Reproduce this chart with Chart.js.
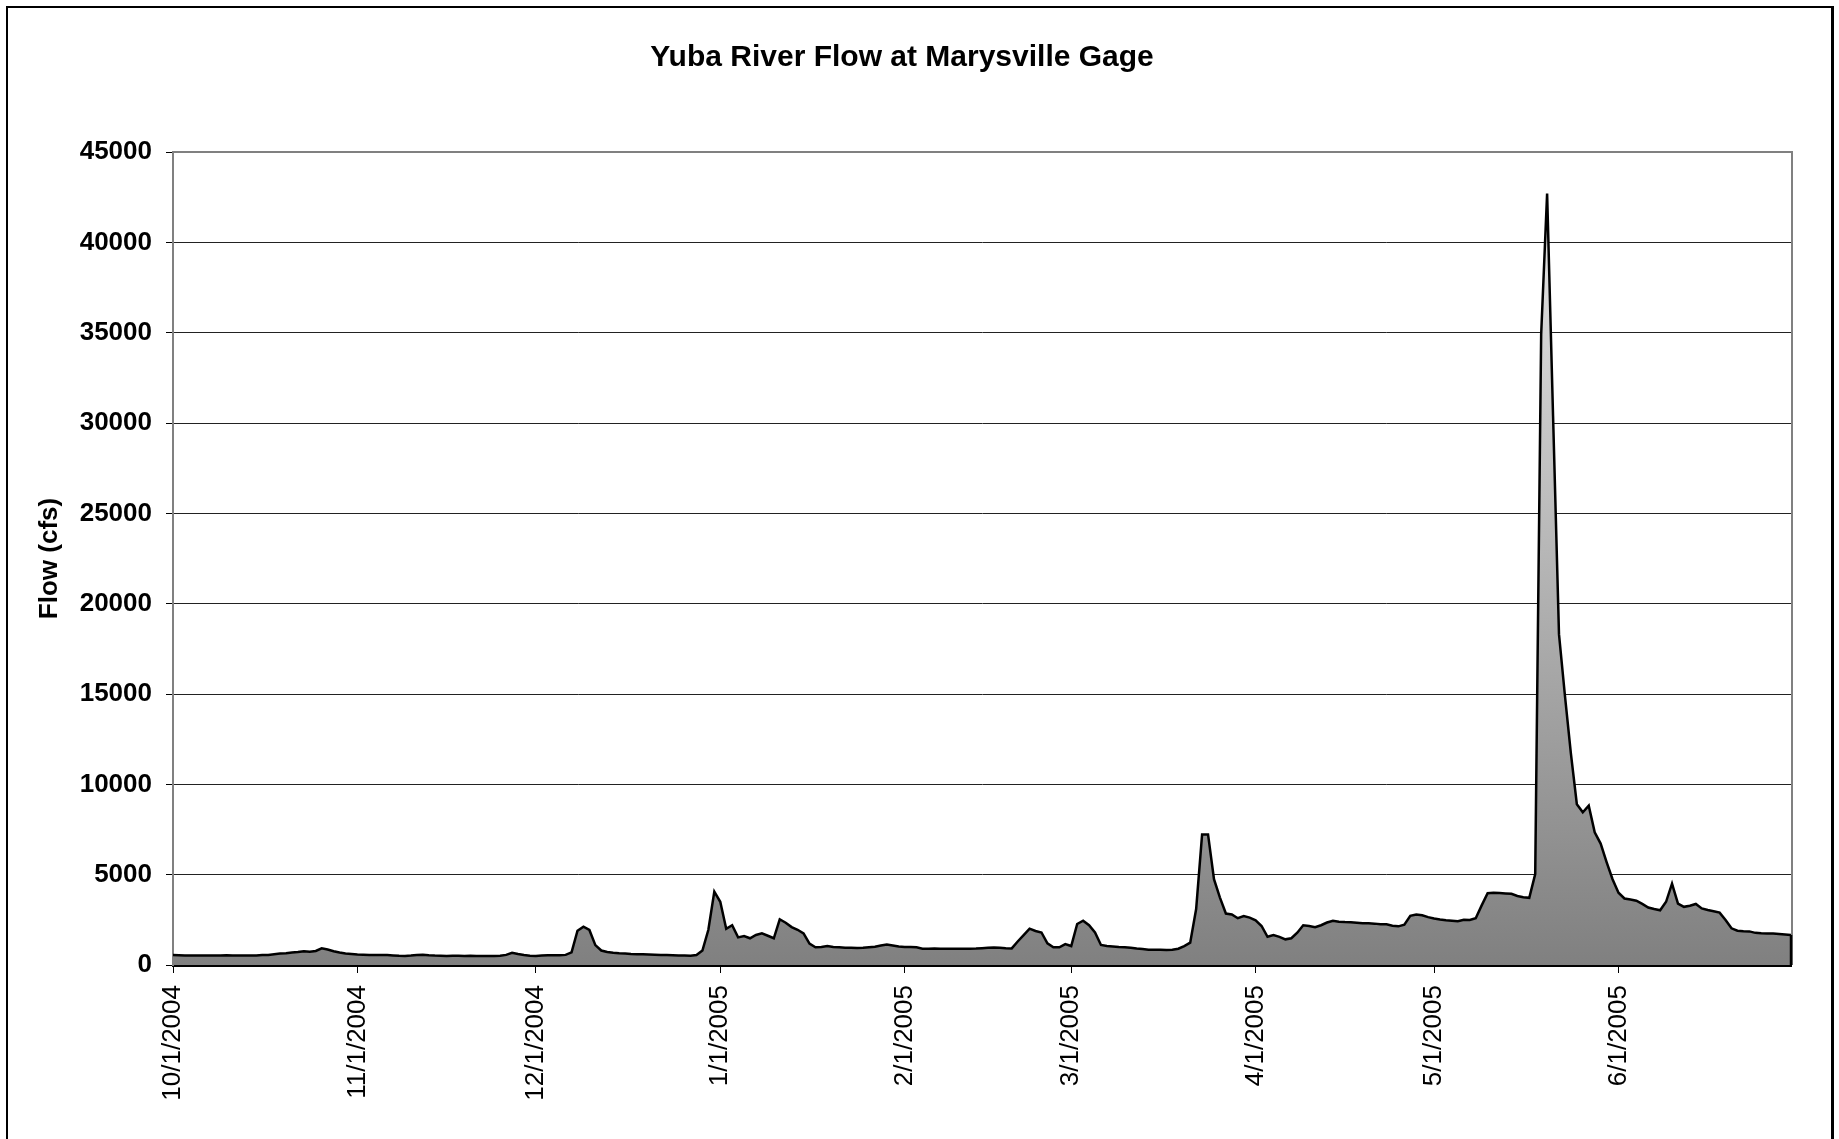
<!DOCTYPE html>
<html>
<head>
<meta charset="utf-8">
<title>Yuba River Flow at Marysville Gage</title>
<script src="https://cdn.jsdelivr.net/npm/chart.js@4.4.1/dist/chart.umd.min.js"></script>
<style>
  html, body { margin: 0; padding: 0; background: #fff; overflow: hidden; }
  #wrap { position: relative; width: 1839px; height: 1139px; }
  #frame {
    position: absolute; left: 6px; top: 6px; width: 1828px; height: 1200px;
    border: 2px solid #000; border-right-width: 3px; box-sizing: border-box;
    pointer-events: none;
  }
  canvas { position: absolute; left: 0; top: 0; }
</style>
</head>
<body>
<div id="wrap">
  <canvas id="flow-chart" width="1839" height="1139"></canvas>
  <div id="frame"></div>
</div>
<script>
// daily mean flow (cfs), one array per month, starting 10/1/2004
const startDate = '10/1/2004';
const oct2004 = [550, 540, 530, 530, 530, 530, 530, 530, 530, 540, 530, 520, 520, 530, 530, 550,
                 560, 600, 630, 650, 690, 720, 760, 740, 780, 920, 860, 760, 690, 640, 610];
const nov2004 = [580, 570, 560, 560, 560, 550, 530, 510, 500, 520, 550, 570, 540, 520, 510,
                 500, 510, 510, 500, 510, 500, 500, 500, 500, 510, 560, 680, 610, 550, 510];
const dec2004 = [500, 520, 540, 535, 540, 560, 700, 1900, 2120, 1940, 1100, 800, 720, 680, 650, 630,
                 610, 600, 590, 580, 570, 560, 550, 540, 530, 520, 515, 550, 800, 1950, 4060];
const jan2005 = [3500, 2000, 2200, 1530, 1600, 1480, 1660, 1750, 1620, 1480, 2530, 2340, 2100, 1950, 1750, 1180,
                 980, 1000, 1050, 1000, 980, 960, 950, 940, 950, 980, 1010, 1080, 1140, 1080, 1020];
const feb2005 = [1000, 990, 980, 900, 900, 910, 900, 900, 900, 900, 900, 900, 910, 930,
                 950, 970, 950, 930, 920, 1300, 1650, 2010, 1880, 1800, 1200, 980, 980, 1160];
const mar2005 = [1050, 2270, 2450, 2200, 1800, 1110, 1050, 1030, 1000, 980, 950, 910, 880, 850, 840, 840,
                 830, 840, 900, 1050, 1240, 3100, 7230, 7230, 4750, 3730, 2850, 2800, 2590, 2710, 2620];
const apr2005 = [2470, 2160, 1560, 1660, 1560, 1420, 1480, 1790, 2200, 2160, 2090, 2200, 2350, 2450, 2400,
                 2380, 2370, 2340, 2310, 2310, 2290, 2260, 2250, 2170, 2140, 2230, 2720, 2800, 2750, 2650];
const may2005 = [2570, 2520, 2480, 2450, 2420, 2500, 2490, 2590, 3300, 3970, 4000, 3980, 3960, 3940, 3820, 3750,
                 3720, 5030, 34900, 42700, 30400, 18300, 14900, 11700, 8900, 8450, 8820, 7350, 6720, 5700, 4750];
const jun2005 = [4000, 3680, 3620, 3560, 3380, 3180, 3100, 3030, 3500, 4500, 3400, 3220, 3280, 3380, 3130,
                 3040, 2980, 2900, 2490, 2030, 1900, 1870, 1860, 1780, 1760, 1750, 1740, 1720, 1690, 1660];

const tickLabels = ['10/1/2004', '11/1/2004', '12/1/2004', '1/1/2005', '2/1/2005',
                    '3/1/2005', '4/1/2005', '5/1/2005', '6/1/2005'];
const yMax = 45000;
const yStep = 5000;

const flows = [].concat(oct2004, nov2004, dec2004, jan2005, feb2005, mar2005, apr2005, may2005, jun2005);

function dayIndex(label) {
    const [m, d, y] = label.split('/').map(Number);
    const [m0, d0, y0] = startDate.split('/').map(Number);
    return Math.round((Date.UTC(y, m - 1, d) - Date.UTC(y0, m0 - 1, d0)) / 86400000);
}
const tickDays = tickLabels.map(dayIndex);
const peak = Math.max(...flows);

Chart.defaults.font.family = '"Liberation Sans", Arial, sans-serif';
Chart.defaults.color = '#000';

// grey plot frame behind the area, black edge closing the area at the last day
const plotFrame = {
    id: 'plotFrame',
    beforeDatasetsDraw(chart) {
        const {ctx, chartArea: a} = chart;
        ctx.save();
        ctx.strokeStyle = '#808080';
        ctx.lineWidth = 2;
        ctx.beginPath();
        ctx.moveTo(a.left, a.top);
        ctx.lineTo(a.right + 1, a.top);
        ctx.lineTo(a.right + 1, a.bottom);
        ctx.stroke();
        ctx.restore();
    },
    afterDatasetsDraw(chart) {
        const {ctx} = chart;
        const meta = chart.getDatasetMeta(0);
        const last = meta.data[meta.data.length - 1];
        const y0 = chart.scales.y.getPixelForValue(0);
        ctx.save();
        ctx.strokeStyle = '#000';
        ctx.lineWidth = 2.5;
        ctx.beginPath();
        ctx.moveTo(last.x, last.y);
        ctx.lineTo(last.x, y0);
        ctx.stroke();
        ctx.restore();
    }
};

var ctx = document.getElementById('flow-chart').getContext('2d');
var flowChart = new Chart(ctx, {
    type: 'line',
    data: {
        datasets: [{
            label: 'Flow (cfs)',
            data: flows.map((v, i) => ({x: i, y: v})),
            borderColor: '#000',
            borderWidth: 2.5,
            pointRadius: 0,
            tension: 0,
            fill: 'origin',
            backgroundColor: function(context) {
                const chart = context.chart;
                if (!chart.chartArea) return '#808080';
                const y = chart.scales.y;
                const g = chart.ctx.createLinearGradient(0, y.getPixelForValue(peak), 0, y.getPixelForValue(0));
                g.addColorStop(0, '#e6e6e6');
                g.addColorStop(1, '#808080');
                return g;
            }
        }]
    },
    options: {
        responsive: false,
        animation: false,
        layout: {padding: {left: 13, right: 48, top: 0, bottom: 0}},
        plugins: {
            legend: {display: false},
            tooltip: {enabled: false},
            title: {
                display: true,
                text: 'Yuba River Flow at Marysville Gage',
                color: '#000',
                font: {size: 30, weight: 'bold'},
                padding: {top: 40, bottom: 76}
            }
        },
        scales: {
            x: {
                type: 'linear',
                min: 0,
                max: flows.length - 1,
                z: 1,
                afterBuildTicks: function(scale) {
                    scale.ticks = tickDays.map(v => ({value: v}));
                },
                afterFit: function(scale) { scale.height = 174; },
                border: {color: '#000', width: 3},
                grid: {drawOnChartArea: false, drawTicks: true, tickLength: 8, tickColor: '#000', tickWidth: 1},
                ticks: {
                    autoSkip: false,
                    minRotation: 90,
                    maxRotation: 90,
                    padding: 12,
                    font: {size: 26},
                    callback: function(value) {
                        const k = tickDays.indexOf(value);
                        return k >= 0 ? tickLabels[k] : null;
                    }
                }
            },
            y: {
                min: 0,
                max: yMax,
                afterFit: function(scale) { scale.width = 160; },
                border: {color: '#808080', width: 2},
                grid: {color: '#222', lineWidth: 1, tickLength: 7, tickColor: '#000'},
                ticks: {
                    stepSize: yStep,
                    padding: 14,
                    font: {size: 26, weight: 'bold'},
                    callback: v => String(v)
                },
                title: {
                    display: true,
                    text: 'Flow (cfs)',
                    color: '#000',
                    font: {size: 26, weight: 'bold'},
                    padding: {top: 21, bottom: 0}
                }
            }
        }
    },
    plugins: [plotFrame]
});
</script>
</body>
</html>
